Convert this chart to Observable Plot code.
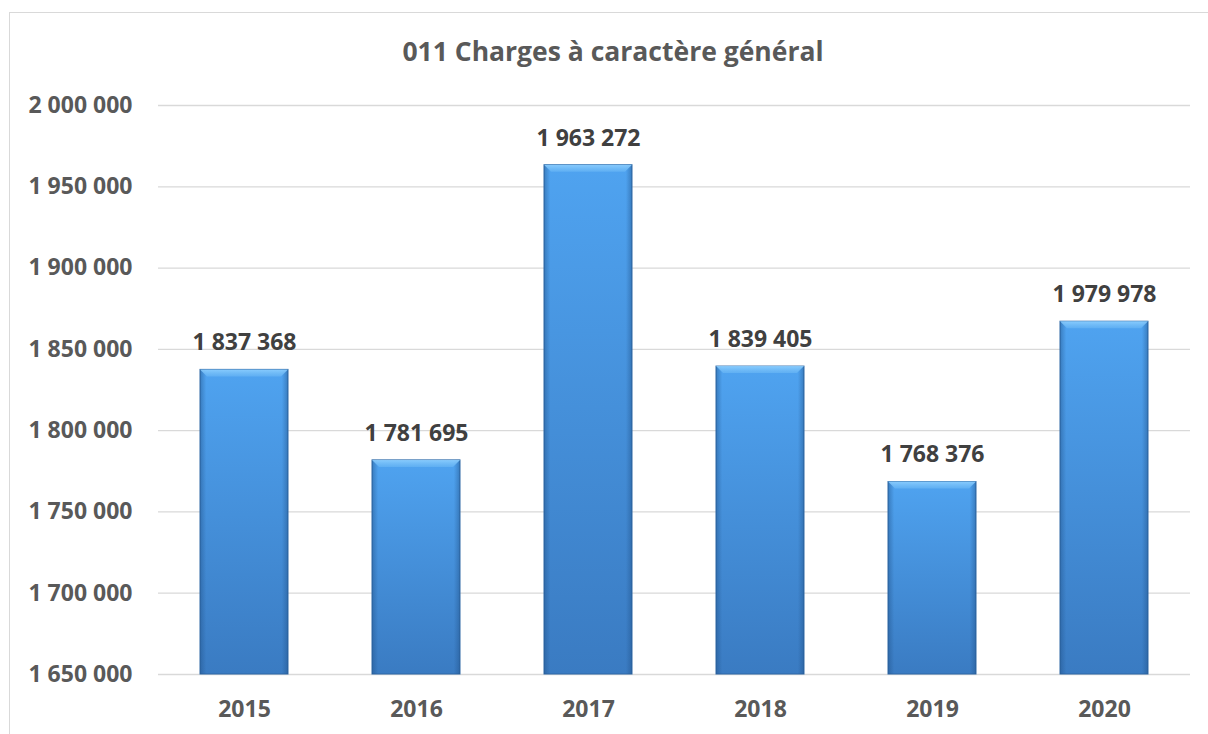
<!DOCTYPE html>
<html>
<head>
<meta charset="utf-8">
<script src="https://cdn.jsdelivr.net/npm/d3@7"></script>
<script src="https://cdn.jsdelivr.net/npm/@observablehq/plot@0.6"></script>
<style>
  html, body { margin: 0; padding: 0; background: #fff; }
  #wrap { position: relative; width: 1208px; height: 734px; overflow: hidden; font-family: "Open Sans", sans-serif; }
  #frame { position: absolute; left: 9px; top: 12px; width: 1300px; height: 900px; border-left: 1.5px solid #d9d9d9; border-top: 1.5px solid #d9d9d9; }
  #title { position: absolute; left: 0; width: 1226px; top: 33px; text-align: center; font-weight: 700; font-size: 26.5px; color: #595959; }
  #chart { position: absolute; left: 0; top: 0; }
</style>
</head>
<body>
<div id="wrap">
  <div id="frame"></div>
  <div id="title">011 Charges à caractère général</div>
  <div id="chart"></div>
</div>
<script>
const years = ["2015", "2016", "2017", "2018", "2019", "2020"];
const values = [1837368, 1781695, 1963272, 1839405, 1768376, 1867000];
const labels = ["1 837 368", "1 781 695", "1 963 272", "1 839 405", "1 768 376", "1 979 978"];
const yTicks = [1650000, 1700000, 1750000, 1800000, 1850000, 1900000, 1950000, 2000000];

const data = years.map((y, i) => ({year: y, value: values[i], label: labels[i]}));
const fmt = d => d3.format(",")(d).replace(/,/g, " ");
const Y0 = 1650000;

function bevel(index, scales, values, dimensions, context, next) {
  const g = next(index, scales, values, dimensions, context);
  const ns = "http://www.w3.org/2000/svg";
  for (const i of index) {
    const x0 = scales.x(data[i].year), w = scales.x.bandwidth();
    const yt = scales.y(data[i].value);
    const b = 7;
    const p = document.createElementNS(ns, "polygon");
    p.setAttribute("points", `${x0},${yt} ${x0 + w},${yt} ${x0 + w - b},${yt + b} ${x0 + b},${yt + b}`);
    p.setAttribute("fill", "url(#bevelTop)");
    g.appendChild(p);
  }
  return g;
}

const chart = Plot.plot({
  width: 1208,
  height: 734,
  marginLeft: 158,
  marginRight: 18,
  marginTop: 105,
  marginBottom: 60,
  style: {fontFamily: "'Open Sans', sans-serif", fontWeight: 700, fontSize: "23px", color: "#595959", background: "transparent"},
  x: {domain: years, paddingInner: 0.49, paddingOuter: 0.245, label: null, tickSize: 0, tickPadding: 26},
  y: {domain: [Y0, 2000000], ticks: yTicks, tickFormat: fmt, label: null, tickSize: 0, tickPadding: 26},
  marks: [
    Plot.ruleY(yTicks, {stroke: "#d9d9d9", strokeWidth: 1.3}),
    Plot.barY(data, {x: "year", y1: Y0, y2: "value", fill: "url(#barV)", stroke: "#2f69a6", strokeWidth: 1}),
    Plot.barY(data, {x: "year", y1: Y0, y2: "value", fill: "url(#barH)", render: bevel}),
    Plot.text(data, {x: "year", y: "value", text: "label", dy: -27, fill: "#404040", fontSize: 23, fontWeight: 700})
  ]
});

chart.insertAdjacentHTML("afterbegin", `
<defs>
  <linearGradient id="barV" x1="0" y1="0" x2="0" y2="1">
    <stop offset="0" stop-color="#4fa3f0"/>
    <stop offset="1" stop-color="#3a7bc2"/>
  </linearGradient>
  <linearGradient id="barH" x1="0" y1="0" x2="1" y2="0">
    <stop offset="0" stop-color="#1f4f85" stop-opacity="0.45"/>
    <stop offset="0.07" stop-color="#1f4f85" stop-opacity="0.0"/>
    <stop offset="0.93" stop-color="#1f4f85" stop-opacity="0.0"/>
    <stop offset="1" stop-color="#1f4f85" stop-opacity="0.45"/>
  </linearGradient>
  <linearGradient id="bevelTop" x1="0" y1="0" x2="0" y2="1">
    <stop offset="0" stop-color="#8fd0ff" stop-opacity="0.9"/>
    <stop offset="1" stop-color="#6bb8f5" stop-opacity="0.6"/>
  </linearGradient>
</defs>`);

document.getElementById("chart").appendChild(chart);
</script>
</body>
</html>
